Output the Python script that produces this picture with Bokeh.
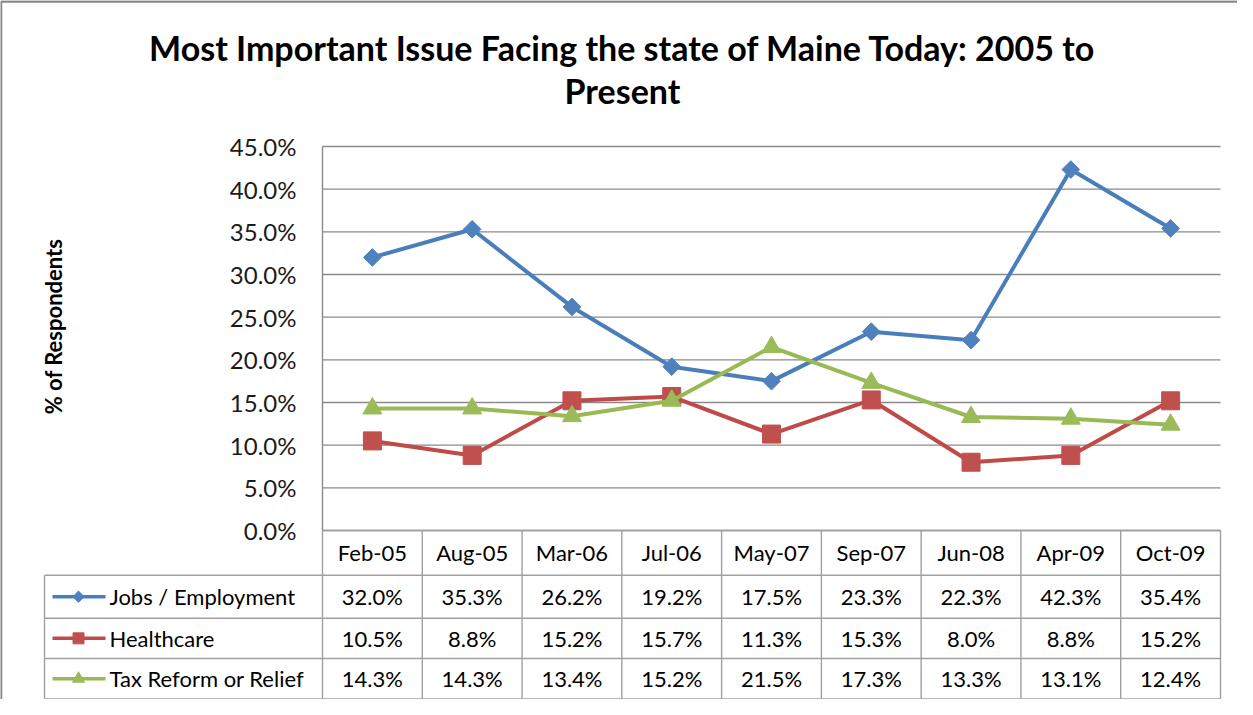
import math
from bokeh.plotting import figure
from bokeh.models import Range1d, ColumnDataSource
from bokeh.core.properties import value
from bokeh.embed import file_html
from bokeh.resources import INLINE

# ---------------- data ----------------
dates = ["Feb-05", "Aug-05", "Mar-06", "Jul-06", "May-07", "Sep-07", "Jun-08", "Apr-09", "Oct-09"]
jobs = [32.0, 35.3, 26.2, 19.2, 17.5, 23.3, 22.3, 42.3, 35.4]
healthcare = [10.5, 8.8, 15.2, 15.7, 11.3, 15.3, 8.0, 8.8, 15.2]
tax = [14.3, 14.3, 13.4, 15.2, 21.5, 17.3, 13.3, 13.1, 12.4]
series_names = ["Jobs / Employment", "Healthcare", "Tax Reform or Relief"]
y_ticks = [0, 5, 10, 15, 20, 25, 30, 35, 40, 45]
title_lines = ["Most Important Issue Facing the state of Maine Today: 2005 to", "Present"]
y_title = "% of Respondents"

# ---------------- layout (pixels of the reference picture) ----------------
W, H = 1237, 699
OX, OY = 8, 8
PLOT_L, PLOT_R = 330, 1228
Y0_PX, YMAX_PX, YMAX = 538, 154, 45.0
CW = (PLOT_R - PLOT_L) / len(dates)
PPU = (Y0_PX - YMAX_PX) / YMAX


def X(px):
    return (px - PLOT_L) / CW - 0.5


def Y(py):
    return (Y0_PX - py) / PPU


FONT = value("Lato")
colors = ["#4A7EBB", "#BE4B48", "#98B954"]
fills = ["#4F81BD", "#C0504D", "#9BBB59"]

p = figure(width=W, height=H, x_range=Range1d(X(OX), X(OX + W)),
           y_range=Range1d(Y(OY + H), Y(OY)), output_backend="svg",
           toolbar_location=None, min_border=0, x_axis_type=None, y_axis_type=None,
           outline_line_color=None, background_fill_color="white", border_fill_color="white")
p.xgrid.visible = False
p.ygrid.visible = False

# outer chart border (top and left visible)
p.segment(x0=[X(OX), X(OX + 0.5)], y0=[Y(OY + 1), Y(OY + 1)],
          x1=[X(OX + W), X(OX + 0.5)], y1=[Y(OY + 1), Y(OY + H)],
          line_color="#868686", line_width=2.5)

# horizontal gridlines
p.segment(x0=[X(PLOT_L)] * len(y_ticks), y0=y_ticks, x1=[X(PLOT_R)] * len(y_ticks), y1=y_ticks,
          line_color="#8a8a8a", line_width=1.4)
# plot area left edge
p.segment(x0=[X(PLOT_L)], y0=[YMAX], x1=[X(PLOT_L)], y1=[0], line_color="#8a8a8a", line_width=1.4)

# y tick labels
p.text(x=[X(304)] * len(y_ticks), y=y_ticks, text=[f"{t:.1f}%" for t in y_ticks],
       text_align="right", text_baseline="middle", text_font=FONT, text_font_size="24px",
       text_color="#1a1a1a")

# y axis title
p.text(x=[X(61)], y=[Y(334)], text=[y_title], angle=math.pi / 2, text_align="center",
       text_baseline="middle", text_font=FONT, text_font_size="22px", text_font_style="bold",
       text_color="black")

# title
p.text(x=[X(630), X(630)], y=[Y(55), Y(98)], text=title_lines, text_align="center",
       text_baseline="middle", text_font=FONT, text_font_size="34px", text_font_style="bold",
       text_color="black")

# ---------------- data table ----------------
ROW_EDGES = [538, 582.7, 625.7, 666, 706.5]
LEG_L = 52
TCOL = "#a0a0a0"
n = len(dates)
# vertical lines of value columns
p.segment(x0=[i - 0.5 for i in range(n + 1)], y0=[Y(ROW_EDGES[0])] * (n + 1),
          x1=[i - 0.5 for i in range(n + 1)], y1=[Y(ROW_EDGES[-1])] * (n + 1),
          line_color=TCOL, line_width=1.4)
# header top line
p.segment(x0=[X(PLOT_L)], y0=[Y(ROW_EDGES[0])], x1=[X(PLOT_R)], y1=[Y(ROW_EDGES[0])],
          line_color=TCOL, line_width=1.4)
# row lines incl. legend column
rl = ROW_EDGES[1:]
p.segment(x0=[X(LEG_L)] * len(rl), y0=[Y(r) for r in rl], x1=[X(PLOT_R)] * len(rl),
          y1=[Y(r) for r in rl], line_color=TCOL, line_width=1.4)
p.segment(x0=[X(LEG_L)], y0=[Y(ROW_EDGES[1])], x1=[X(LEG_L)], y1=[Y(ROW_EDGES[-1])],
          line_color=TCOL, line_width=1.4)

# header labels
p.text(x=list(range(n)), y=[Y((ROW_EDGES[0] + ROW_EDGES[1]) / 2)] * n, text=dates,
       text_align="center", text_baseline="middle", text_font=FONT, text_font_size="22px",
       text_color="black")

all_series = [jobs, healthcare, tax]
markers = [("square", 12.5, math.pi / 4), ("square", 18, 0.0), ("triangle", 19, 0.0)]
leg_markers = [("square", 8, math.pi / 4), ("square", 11, 0.0), ("triangle", 12, 0.0)]

for k, vals in enumerate(all_series):
    yc = Y((ROW_EDGES[k + 1] + ROW_EDGES[k + 2]) / 2)
    p.text(x=list(range(n)), y=[yc] * n, text=[f"{v:.1f}%" for v in vals],
           text_align="center", text_baseline="middle", text_font=FONT, text_font_size="22px",
           text_color="black")
    # legend key
    p.line(x=[X(60), X(113)], y=[yc, yc], line_color=colors[k], line_width=3.5)
    mk, ms, ma = leg_markers[k]
    p.scatter(x=[X(86)], y=[yc], marker=mk, size=ms, angle=ma, fill_color=fills[k],
              line_color=fills[k])
    p.text(x=[X(117)], y=[yc], text=[series_names[k]], text_align="left", text_baseline="middle",
           text_font=FONT, text_font_size="22px", text_color="black")

# ---------------- series ----------------
for k, vals in enumerate(all_series):
    src = ColumnDataSource(dict(x=list(range(n)), y=vals))
    p.line(x="x", y="y", source=src, line_color=colors[k], line_width=4)
    mk, ms, ma = markers[k]
    p.scatter(x="x", y="y", source=src, marker=mk, size=ms, angle=ma,
              fill_color=fills[k], line_color=fills[k])

open("out.html", "w").write(file_html(p, INLINE))
